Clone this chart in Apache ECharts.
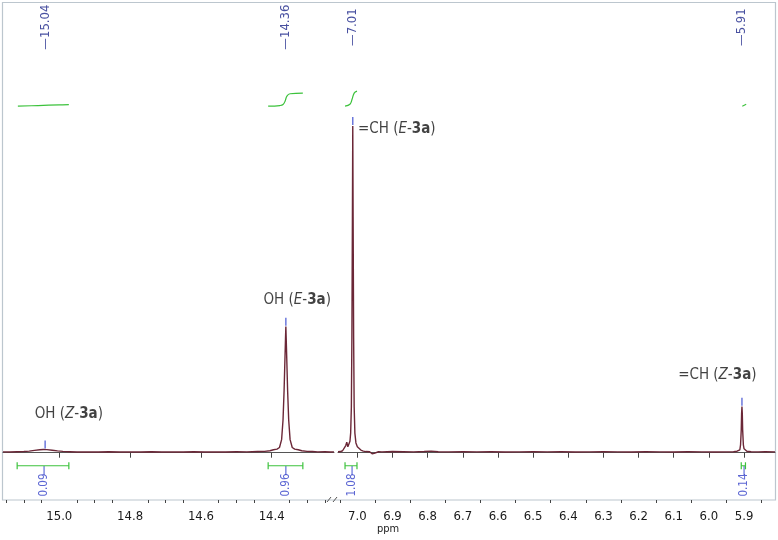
<!DOCTYPE html>
<html><head><meta charset="utf-8">
<script src="https://cdn.jsdelivr.net/npm/echarts@6/dist/echarts.min.js"></script>
<style>html,body{margin:0;padding:0;background:#fff}#c{width:778px;height:540px}</style>
</head><body><div id="c"></div>
<script>
// ---- spectrum (ppm, intensity; tallest peak = 100) ----
const specLeft = [[15.159,0.25],[15.14,0.2],[15.12,0.3],[15.10,0.35],[15.085,0.5],[15.07,0.7],[15.055,0.9],[15.045,1.0],[15.035,0.95],[15.02,0.75],[15.005,0.55],[14.99,0.4],[14.97,0.3],[14.95,0.2],[14.92,0.25],[14.89,0.2],[14.86,0.3],[14.83,0.2],[14.80,0.25],[14.77,0.2],[14.74,0.3],[14.71,0.2],[14.68,0.25],[14.65,0.2],[14.62,0.3],[14.59,0.2],[14.56,0.25],[14.53,0.2],[14.50,0.3],[14.47,0.25],[14.44,0.35],[14.42,0.4],[14.405,0.6],[14.395,0.9],[14.385,1.1],[14.378,1.6],[14.372,4],[14.368,10],[14.365,19],[14.3625,29],[14.361,35],[14.360,38.6],[14.359,35],[14.3575,29],[14.355,19],[14.352,10],[14.348,4],[14.342,1.6],[14.335,1.1],[14.325,0.9],[14.315,0.6],[14.30,0.4],[14.285,0.35],[14.27,0.25],[14.25,0.3],[14.235,0.2],[14.224,0.25]];
const specRight = [[7.055,0.3],[7.048,0.35],[7.042,0.6],[7.037,1.2],[7.033,2.2],[7.030,3.2],[7.027,1.8],[7.024,2.2],[7.021,3.5],[7.019,6],[7.017,14],[7.0155,35],[7.014,72],[7.013,100],[7.012,72],[7.0105,35],[7.009,14],[7.007,6],[7.004,3],[7.000,1.8],[6.995,1.2],[6.99,0.8],[6.983,0.5],[6.975,0.35],[6.965,0.3],[6.958,-0.3],[6.955,-0.9],[6.952,-0.2],[6.948,0.2],[6.94,0.3],[6.93,0.25],[6.90,0.35],[6.87,0.3],[6.84,0.25],[6.81,0.35],[6.79,0.5],[6.77,0.3],[6.74,0.25],[6.70,0.3],[6.66,0.25],[6.62,0.3],[6.58,0.2],[6.54,0.25],[6.50,0.3],[6.46,0.25],[6.42,0.3],[6.38,0.2],[6.34,0.25],[6.30,0.3],[6.26,0.25],[6.22,0.2],[6.18,0.3],[6.14,0.25],[6.10,0.2],[6.06,0.3],[6.02,0.25],[5.98,0.2],[5.95,0.25],[5.93,0.3],[5.92,0.45],[5.915,0.6],[5.912,0.9],[5.910,2.4],[5.908,7],[5.907,12],[5.906,14.1],[5.905,12],[5.904,7],[5.902,2.4],[5.900,1.2],[5.897,0.7],[5.892,0.45],[5.88,0.3],[5.86,0.25],[5.84,0.3],[5.812,0.25]];

// ---- axis ticks ----
const leftTicks = [15.0,14.8,14.6,14.4];
const leftMinor = [15.15,15.1,15.05,14.95,14.9,14.85,14.75,14.7,14.65,14.55,14.5,14.45,14.35,14.3,14.25];
const rightTicks = [7.0,6.9,6.8,6.7,6.6,6.5,6.4,6.3,6.2,6.1,6.0,5.9];
const rightMinor = [7.05,6.95,6.85,6.75,6.65,6.55,6.45,6.35,6.25,6.15,6.05,5.95,5.85];

// ---- peak picking ----
const peakShift = [15.04,14.36,7.013,5.906];
const peakLabels = ['15.04','14.36','7.01','5.91'];
const peakTop = [1.0,38.6,100,14.1];

// ---- integrals ----
const integralRanges = [[15.119,14.973],[14.410,14.312],[7.035,7.001],[5.908,5.896]];
const integralCenters = [15.043,14.36,7.015,5.90];
const integralValues = ['0.09','0.96','1.08','0.14'];
const integralCurves = [
  [[15.117,106.1],[15.06,106.3],[15.0,106.5],[14.973,106.6]],
  [[14.410,106.1],[14.377,106.3],[14.368,106.6],[14.362,107.7],[14.357,109.2],[14.348,109.9],[14.312,110.1]],
  [[7.035,106.1],[7.021,106.7],[7.015,108.2],[7.009,110.1],[7.001,110.7]],
  [[5.905,106.1],[5.894,106.7]]
];

// ---- annotations ----
const annoPpm = [14.973,14.328,6.998,5.976];
const annoLevel = [11.8,46.7,99.1,23.8];
const annoMain = ['OH (','OH (','=CH (','=CH ('];
const annoIso = ['Z','E','E','Z'];
const annoAlign = ['center','center','left','center'];

const side = p => p > 10 ? 0 : 1;
const Y = {min:-14.48, max:138};
const GREEN = '#3cc23c', SPEC = '#6b2737';
const TICKFONT = "'DejaVu Sans Condensed', 'Liberation Sans', sans-serif";

const yAxes = [0,1].map(g => ({type:'value', gridIndex:g, min:Y.min, max:Y.max, show:false}));
const labelStyle = () => ({color:'#1a1a1a', fontSize:13, fontFamily:TICKFONT, margin:10, formatter:v=>(+v).toFixed(1)});
const xAxes = [
  {type:'value', gridIndex:0, min:14.224, max:15.159, inverse:true, position:'bottom',
   axisLine:{lineStyle:{color:'#555',width:1}}, splitLine:{show:false},
   axisTick:{customValues:leftTicks, length:5, lineStyle:{color:'#444'}},
   axisLabel:Object.assign({customValues:leftTicks}, labelStyle())},
  {type:'value', gridIndex:1, min:5.812, max:7.055, inverse:true, position:'bottom',
   axisLine:{lineStyle:{color:'#555',width:1}}, splitLine:{show:false},
   axisTick:{customValues:rightTicks, length:5, lineStyle:{color:'#444'}},
   axisLabel:Object.assign({customValues:rightTicks}, labelStyle())},
  {type:'value', gridIndex:0, min:14.224, max:15.159, inverse:true, position:'bottom',
   axisLine:{show:false}, splitLine:{show:false}, axisLabel:{show:false},
   axisTick:{customValues:leftMinor, length:3, lineStyle:{color:'#444'}}},
  {type:'value', gridIndex:1, min:5.812, max:7.055, inverse:true, position:'bottom',
   axisLine:{show:false}, splitLine:{show:false}, axisLabel:{show:false},
   axisTick:{customValues:rightMinor, length:3, lineStyle:{color:'#444'}}}
];

const series = [];
series.push({type:'line', xAxisIndex:0, yAxisIndex:0, data:specLeft, showSymbol:false, symbol:'none',
  lineStyle:{color:SPEC, width:1.4}, z:3});
series.push({type:'line', xAxisIndex:1, yAxisIndex:1, data:specRight, showSymbol:false, symbol:'none',
  lineStyle:{color:SPEC, width:1.4}, z:3});

// integral curves and bars
integralCurves.forEach(c => {
  const g = side(c[0][0]);
  series.push({type:'line', xAxisIndex:g, yAxisIndex:g, data:c, symbol:'none', smooth:0.4,
    lineStyle:{color:GREEN, width:1.2}});
});
integralRanges.forEach(r => {
  const g = side(r[0]);
  series.push({type:'line', xAxisIndex:g, yAxisIndex:g, data:[[r[0],-4],[r[1],-4]],
    symbol:'rect', symbolSize:[1.2,7], showSymbol:true,
    itemStyle:{color:GREEN}, lineStyle:{color:GREEN, width:1.2}});
});

// peak markers, integral ticks and labels
[0,1].forEach(g => {
  const idx = peakShift.map((p,i)=>i).filter(i => side(peakShift[i])===g);
  series.push({type:'scatter', xAxisIndex:g, yAxisIndex:g, symbol:'rect', symbolSize:[1.4,8], symbolOffset:[0,-5],
    itemStyle:{color:'#3a4ad0'}, data: idx.map(i => [peakShift[i], peakTop[i]])});
  series.push({type:'scatter', xAxisIndex:g, yAxisIndex:g, symbolSize:0,
    data: idx.map(i => ({value:[peakShift[i], 130.3], name:'\u2014'+peakLabels[i]})),
    label:{show:true, position:'inside', rotate:90, formatter:p=>p.name,
      color:'#1a2488', fontSize:13, fontFamily:TICKFONT}});
  const idx2 = integralCenters.map((p,i)=>i).filter(i => side(integralCenters[i])===g);
  series.push({type:'scatter', xAxisIndex:g, yAxisIndex:g, symbol:'rect', symbolSize:[1.2,9],
    itemStyle:{color:'#3a4ad0'}, data: idx2.map(i => [integralCenters[i], -5.45])});
  series.push({type:'scatter', xAxisIndex:g, yAxisIndex:g, symbolSize:0,
    data: idx2.map(i => ({value:[integralCenters[i], -9.9], name:integralValues[i]})),
    label:{show:true, position:'inside', rotate:90, formatter:p=>p.name,
      color:'#3340c8', fontSize:11.5, fontFamily:TICKFONT}});
  const idx3 = annoPpm.map((p,i)=>i).filter(i => side(annoPpm[i])===g);
  idx3.forEach(i => {
    series.push({type:'scatter', xAxisIndex:g, yAxisIndex:g, symbolSize:0,
      data:[{value:[annoPpm[i], annoLevel[i]]}],
      label:{show:true, position:'inside', align:annoAlign[i], verticalAlign:'middle',
        formatter:'{n|'+annoMain[i]+'}{i|'+annoIso[i]+'}{n|-}{b|3a}{n|)}',
        rich:{
          n:{fontSize:15, color:'#111', fontFamily:TICKFONT},
          i:{fontSize:15, color:'#111', fontFamily:TICKFONT, fontStyle:'italic'},
          b:{fontSize:15, color:'#111', fontFamily:TICKFONT, fontWeight:'bold'}
        }}});
  });
});

const chart = echarts.init(document.getElementById('c'), null, {renderer:'canvas'});
chart.setOption({
  animation:false,
  backgroundColor:'#fff',
  grid:[{left:3, top:2, width:331, height:498}, {left:338, top:2, width:437, height:498}],
  xAxis:xAxes, yAxis:yAxes, series:series,
  graphic:[
    {type:'rect', z:-10, shape:{x:2.5, y:2.5, width:773, height:497.5}, style:{fill:null, stroke:'#bcc6ce', lineWidth:1.2}},
    {type:'line', z:10, shape:{x1:327, y1:502, x2:331, y2:497}, style:{stroke:'#555', lineWidth:1}},
    {type:'line', z:10, shape:{x1:333, y1:502, x2:337, y2:497}, style:{stroke:'#555', lineWidth:1}},
    {type:'text', z:10, x:377, y:524, style:{text:'ppm', fill:'#222', fontSize:11, fontFamily:TICKFONT}}
  ]
});
</script></body></html>
